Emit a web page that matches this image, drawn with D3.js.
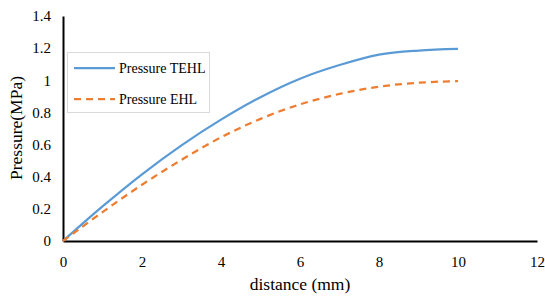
<!DOCTYPE html>
<html>
<head>
<meta charset="utf-8">
<script src="https://d3js.org/d3.v7.min.js"></script>
<style>
body { margin: 0; background: #fff; }
</style>
</head>
<body>
<svg id="chart" width="545" height="296"></svg>
<script>
// distance (mm)
var distance = [0, 1, 2, 3, 4, 5, 6, 7, 8, 9, 10];
// pressure series (MPa)
var pressureTEHL = [0, 0.215, 0.415, 0.595, 0.755, 0.895, 1.01, 1.095, 1.16, 1.185, 1.195];
var pressureEHL  = [0, 0.18, 0.35, 0.505, 0.645, 0.76, 0.85, 0.915, 0.96, 0.985, 0.995];
var xTicks = [0, 2, 4, 6, 8, 10, 12];
var yTicks = [0, 0.2, 0.4, 0.6, 0.8, 1, 1.2, 1.4];

var svg = d3.select("#chart");
var serif = "'Liberation Serif', serif";

var x = d3.scaleLinear().domain([0, 12]).range([63, 537]);
var y = d3.scaleLinear().domain([0, 1.4]).range([241, 16]);

// axes
var gx = svg.append("g")
    .attr("transform", "translate(0,241)")
    .call(d3.axisBottom(x).tickValues(xTicks).tickSize(0).tickPadding(15).tickFormat(d3.format("")));
var gy = svg.append("g")
    .attr("transform", "translate(63,0)")
    .call(d3.axisLeft(y).tickValues(yTicks).tickSize(0).tickPadding(12).tickFormat(function(d){ return String(+d.toFixed(1)); }));
[gx, gy].forEach(function(g) {
    g.select(".domain").attr("stroke", "#000").attr("stroke-width", 2);
    g.selectAll("text")
        .style("font-family", serif)
        .style("font-size", "15px")
        .attr("fill", "#000");
});

// axis titles
svg.append("text")
    .attr("x", 300)
    .attr("y", 290)
    .attr("text-anchor", "middle")
    .style("font-family", serif)
    .style("font-size", "17.5px")
    .text("distance (mm)");
svg.append("text")
    .attr("transform", "translate(22,128) rotate(-90)")
    .attr("text-anchor", "middle")
    .style("font-family", serif)
    .style("font-size", "17.5px")
    .text("Pressure(MPa)");

var line = function(vals) {
    return d3.line()
        .x(function(d, i){ return x(distance[i]); })
        .y(function(d){ return y(d); })
        .curve(d3.curveCatmullRom.alpha(0.5))(vals);
};

svg.append("path")
    .attr("d", line(pressureTEHL))
    .attr("fill", "none")
    .attr("stroke", "#5B9BD5")
    .attr("stroke-width", 2.25);
svg.append("path")
    .attr("d", line(pressureEHL))
    .attr("fill", "none")
    .attr("stroke", "#ED7D31")
    .attr("stroke-width", 2.25)
    .attr("stroke-dasharray", "7,5");

// legend
var legend = svg.append("g");
legend.append("rect")
    .attr("x", 67.5).attr("y", 52.5)
    .attr("width", 142).attr("height", 60)
    .attr("fill", "#fff")
    .attr("stroke", "#d9d9d9");
var items = [
    {name: "Pressure TEHL", color: "#5B9BD5", dash: null, cy: 68},
    {name: "Pressure EHL", color: "#ED7D31", dash: "7,5", cy: 99}
];
items.forEach(function(it) {
    legend.append("line")
        .attr("x1", 74).attr("x2", 115)
        .attr("y1", it.cy).attr("y2", it.cy)
        .attr("stroke", it.color)
        .attr("stroke-width", 2.25)
        .attr("stroke-dasharray", it.dash);
    legend.append("text")
        .attr("x", 119)
        .attr("y", it.cy + 5)
        .style("font-family", serif)
        .style("font-size", "14px")
        .text(it.name);
});
</script>
</body>
</html>
